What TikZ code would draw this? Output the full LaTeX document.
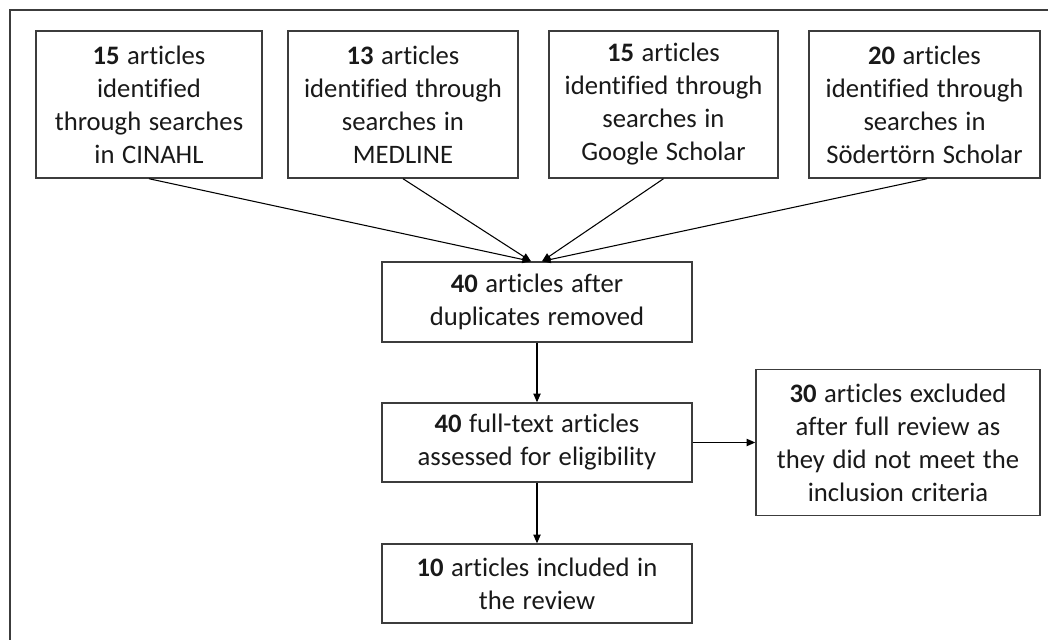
\documentclass[tikz,border=0pt]{standalone}
\usepackage{fontspec}
\setmainfont{Carlito}[Ligatures=CommonOff,WordSpace=1.25]
\usetikzlibrary{arrows.meta,calc}
\definecolor{ln}{RGB}{60,60,60}
\definecolor{tx}{RGB}{25,25,25}
\begin{document}
\begin{tikzpicture}[x=0.75pt,y=-0.75pt,
  box/.style={draw=ln,line width=1.1pt,align=center,inner sep=0pt,text=tx,
    font=\fontsize{20pt}{24.75pt}\selectfont},
  arr/.style={draw=black,line width=0.8pt,-{Triangle[length=6.5pt,width=5.5pt]}}]
\clip (0,0) rectangle (1048,639);
\fill[white] (0,0) rectangle (1048,639);
\draw[ln,line width=1.1pt] (10,10) rectangle (1070,670);
\node[box,minimum width=226*0.75pt,minimum height=147*0.75pt] (b1) at (149,104.5)
  {\textbf{15} articles\\identified\\through searches\\in CINAHL};
\node[box,minimum width=230*0.75pt,minimum height=147*0.75pt] (b2) at (403,104.5)
  {\textbf{13} articles\\identified through\\searches in\\MEDLINE};
\node[box,minimum width=229*0.75pt,minimum height=147*0.75pt] (b3) at (663.5,104.5)
  {\textbf{15} articles\\identified through\\searches in\\Google Scholar};
\node[box,minimum width=231*0.75pt,minimum height=147*0.75pt] (b4) at (924.5,104.5)
  {\textbf{20} articles\\identified through\\searches in\\Södertörn Scholar};
\node[box,minimum width=310*0.75pt,minimum height=80*0.75pt] (b5) at (537,302)
  {\textbf{40} articles after\\duplicates removed};
\node[box,minimum width=310*0.75pt,minimum height=79*0.75pt] (b6) at (537,442.5)
  {\textbf{40} full-text articles\\assessed for eligibility};
\node[box,minimum width=284*0.75pt,minimum height=146*0.75pt] (b7) at (898,442.5)
  {\textbf{30} articles excluded\\after full review as\\they did not meet the\\inclusion criteria};
\node[box,minimum width=310*0.75pt,minimum height=79*0.75pt] (b8) at (537,583.5)
  {\textbf{10} articles included in\\the review};
\coordinate (t1) at ($(b5.north)+(-6,0)$);
\coordinate (t2) at ($(b5.north)+(5,0)$);
\draw[arr] (b1.south) -- (t1);
\draw[arr] (b2.south) -- (t1);
\draw[arr] (b3.south) -- (t2);
\draw[arr] ($(b4.south)+(2.5,0)$) -- (t2);
\draw[arr] (b5.south) -- (b6.north);
\draw[arr] (b6.east) -- (b7.west);
\draw[arr] (b6.south) -- (b8.north);
\end{tikzpicture}
\end{document}
